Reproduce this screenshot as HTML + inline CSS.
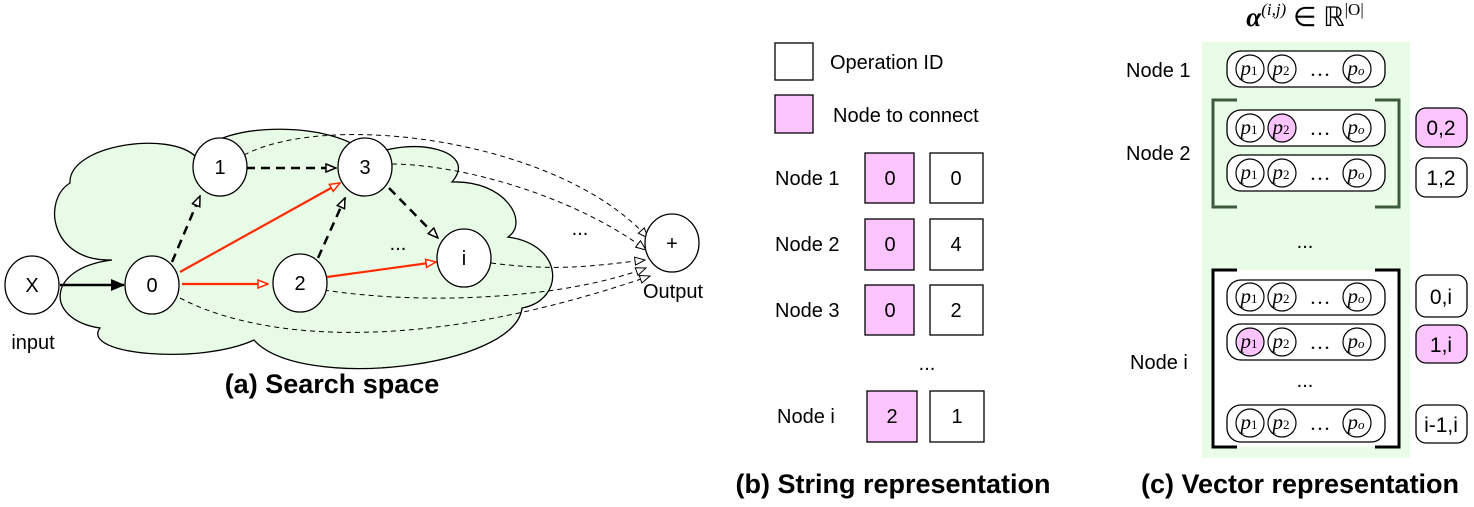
<!DOCTYPE html>
<html><head><meta charset="utf-8"><style>
html,body{margin:0;padding:0;background:#fff;}
svg{display:block;font-family:"Liberation Sans",sans-serif;}
</style></head><body>
<svg width="1474" height="507" viewBox="0 0 1474 507" xmlns="http://www.w3.org/2000/svg">
<defs>
<marker id="ob" markerWidth="12" markerHeight="10" refX="11" refY="5" orient="auto" markerUnits="userSpaceOnUse"><path d="M1,1 L11,5 L1,9 Z" fill="#fff" stroke="#000" stroke-width="1.5"/></marker>
<marker id="obt" markerWidth="12" markerHeight="10" refX="11" refY="5" orient="auto" markerUnits="userSpaceOnUse"><path d="M1,1 L11,5 L1,9 Z" fill="#fff" stroke="#000" stroke-width="1"/></marker>
<marker id="or" markerWidth="12" markerHeight="10" refX="11" refY="5" orient="auto" markerUnits="userSpaceOnUse"><path d="M1,1 L11,5 L1,9 Z" fill="#fff" stroke="#ff2a00" stroke-width="1.5"/></marker>
<marker id="fb" markerWidth="14" markerHeight="12" refX="13" refY="6" orient="auto" markerUnits="userSpaceOnUse"><path d="M0,0 L14,6 L0,12 Z" fill="#000"/></marker>
</defs>
<path d="M112,260 C50,262 42,200 70,183 C68,145 170,130 196,157 C220,118 345,122 368,157 C410,135 480,150 452,182 C505,180 530,222 508,237 C565,245 565,300 522,308 C515,368 300,392 254,340 C200,365 80,355 100,328 C45,320 45,268 112,260 Z" fill="#e8fbe6" stroke="#000" stroke-width="1.3"/>
<g fill="none" stroke="#000" stroke-width="1" stroke-dasharray="5,4" marker-end="url(#obt)">
<path d="M244,155 C330,110 560,140 648,238"/>
<path d="M392,164 C470,165 580,200 646,250"/>
<path d="M491,263 C560,272 600,265 645,260"/>
<path d="M324,290 C420,305 560,300 646,268"/>
<path d="M180,298 C260,340 420,355 650,276"/>
</g>
<g fill="none" stroke="#000" stroke-width="2.5" stroke-dasharray="9,6" marker-end="url(#ob)">
<path d="M172,262 L200,196"/>
<path d="M246,168 L336,168"/>
<path d="M318,258 L345,198"/>
<path d="M389,188 L438,238"/>
</g>
<g fill="none" stroke="#ff2a00" stroke-width="2.2" marker-end="url(#or)">
<path d="M180,272 L340,183"/>
<path d="M182,284 L268,284"/>
<path d="M327,277 L436,262"/>
</g>
<path d="M60,285 L124,285" stroke="#000" stroke-width="2.5" marker-end="url(#fb)"/>
<g fill="#fff" stroke="#000" stroke-width="1.3">
<ellipse cx="32" cy="285" rx="27" ry="29"/>
<ellipse cx="152" cy="285" rx="27" ry="29"/>
<ellipse cx="220" cy="167" rx="27" ry="29"/>
<ellipse cx="365" cy="167" rx="27" ry="29"/>
<ellipse cx="300" cy="283" rx="27" ry="29"/>
<ellipse cx="464" cy="258" rx="27" ry="29"/>
<ellipse cx="672" cy="243" rx="27" ry="29"/>
</g>
<g font-size="20" text-anchor="middle" fill="#000">
<text x="32" y="292">X</text><text x="152" y="292">0</text><text x="220" y="174">1</text>
<text x="365" y="174">3</text><text x="300" y="290">2</text><text x="464" y="265">i</text>
<text x="672" y="250">+</text>
<text x="398" y="250">...</text><text x="580" y="235">...</text>
<text x="673" y="298">Output</text>
<text x="33" y="349">input</text>
</g>
<text x="332" y="393" font-size="27" font-weight="bold" text-anchor="middle">(a) Search space</text>

<g stroke="#000" stroke-width="1.3">
<rect x="775" y="43" width="38" height="37" fill="#fff"/>
<rect x="775" y="95" width="38" height="38" fill="#fcc4fc"/>
<rect x="865" y="153" width="49" height="50" fill="#fcc4fc"/><rect x="930" y="153" width="53" height="50" fill="#fff"/>
<rect x="865" y="219" width="49" height="51" fill="#fcc4fc"/><rect x="930" y="219" width="53" height="51" fill="#fff"/>
<rect x="865" y="285" width="49" height="50" fill="#fcc4fc"/><rect x="930" y="285" width="53" height="50" fill="#fff"/>
<rect x="867" y="391" width="50" height="51" fill="#fcc4fc"/><rect x="930" y="391" width="54" height="51" fill="#fff"/>
</g>
<g font-size="20" fill="#000">
<text x="830" y="69">Operation ID</text>
<text x="833" y="122">Node to connect</text>
<text x="775" y="185">Node 1</text><text x="775" y="251">Node 2</text><text x="775" y="317">Node 3</text><text x="777" y="423">Node i</text>
</g>
<g font-size="20" text-anchor="middle" fill="#000">
<text x="890" y="185">0</text><text x="956" y="185">0</text>
<text x="890" y="251">0</text><text x="956" y="251">4</text>
<text x="890" y="317">0</text><text x="956" y="317">2</text>
<text x="892" y="423">2</text><text x="957" y="423">1</text>
<text x="927" y="370">...</text>
</g>
<text x="893" y="493" font-size="27" font-weight="bold" text-anchor="middle">(b) String representation</text>

<text x="1305" y="26" font-size="27" text-anchor="middle" font-family="Liberation Serif,serif"><tspan font-weight="bold" font-style="italic">α</tspan><tspan font-size="17" dy="-11" font-style="italic">(i,j)</tspan><tspan dy="11"> ∈ ℝ</tspan><tspan font-size="17" dy="-11">|O|</tspan></text>
<rect x="1202" y="42" width="208" height="416" fill="#e8fce8"/>
<rect x="1212" y="270" width="188" height="177" fill="#fff"/>
<g fill="none" stroke-width="3">
<path d="M1237,100 H1213 V207 H1237 M1375,100 H1399 V207 H1375" stroke="#3d5a3d"/>
<path d="M1237,270 H1213 V447 H1237 M1375,270 H1399 V447 H1375" stroke="#000"/>
</g>
<g font-size="20" fill="#000">
<text x="1126" y="77">Node 1</text><text x="1126" y="160">Node 2</text><text x="1130" y="369">Node i</text>
</g>
<g font-size="20" text-anchor="middle" fill="#000">
<text x="1305" y="248">...</text><text x="1305" y="387">...</text>
</g>
<g stroke="#000" stroke-width="1.3" fill="#fff">
<rect x="1227" y="51" width="158" height="36" rx="14"/>
<rect x="1227" y="110" width="158" height="36" rx="14"/>
<rect x="1227" y="155" width="158" height="36" rx="14"/>
<rect x="1227" y="280" width="158" height="35" rx="14"/>
<rect x="1227" y="324" width="158" height="36" rx="14"/>
<rect x="1227" y="405" width="158" height="37" rx="14"/>
</g>
<g stroke="#000" stroke-width="1.2" fill="#fff">
<circle cx="1250" cy="69" r="14"/><circle cx="1282" cy="69" r="14"/><circle cx="1357" cy="69" r="14"/>
<circle cx="1250" cy="128" r="14"/><circle cx="1282" cy="128" r="14" fill="#fcc4fc"/><circle cx="1357" cy="128" r="14"/>
<circle cx="1250" cy="173" r="14"/><circle cx="1282" cy="173" r="14"/><circle cx="1357" cy="173" r="14"/>
<circle cx="1250" cy="297" r="14"/><circle cx="1282" cy="297" r="14"/><circle cx="1357" cy="297" r="14"/>
<circle cx="1250" cy="342" r="14" fill="#fcc4fc"/><circle cx="1282" cy="342" r="14"/><circle cx="1357" cy="342" r="14"/>
<circle cx="1250" cy="423" r="14"/><circle cx="1282" cy="423" r="14"/><circle cx="1357" cy="423" r="14"/>
</g>
<g font-size="21" text-anchor="middle" font-family="Liberation Serif,serif" font-style="italic" fill="#000">
<text x="1249" y="75">p<tspan font-size="13" font-style="normal">1</tspan></text><text x="1281" y="75">p<tspan font-size="13" font-style="normal">2</tspan></text><text x="1356" y="75">p<tspan font-size="13">o</tspan></text><text x="1320" y="76" font-style="normal">…</text>
<text x="1249" y="134">p<tspan font-size="13" font-style="normal">1</tspan></text><text x="1281" y="134">p<tspan font-size="13" font-style="normal">2</tspan></text><text x="1356" y="134">p<tspan font-size="13">o</tspan></text><text x="1320" y="135" font-style="normal">…</text>
<text x="1249" y="179">p<tspan font-size="13" font-style="normal">1</tspan></text><text x="1281" y="179">p<tspan font-size="13" font-style="normal">2</tspan></text><text x="1356" y="179">p<tspan font-size="13">o</tspan></text><text x="1320" y="180" font-style="normal">…</text>
<text x="1249" y="303">p<tspan font-size="13" font-style="normal">1</tspan></text><text x="1281" y="303">p<tspan font-size="13" font-style="normal">2</tspan></text><text x="1356" y="303">p<tspan font-size="13">o</tspan></text><text x="1320" y="304" font-style="normal">…</text>
<text x="1249" y="348">p<tspan font-size="13" font-style="normal">1</tspan></text><text x="1281" y="348">p<tspan font-size="13" font-style="normal">2</tspan></text><text x="1356" y="348">p<tspan font-size="13">o</tspan></text><text x="1320" y="349" font-style="normal">…</text>
<text x="1249" y="429">p<tspan font-size="13" font-style="normal">1</tspan></text><text x="1281" y="429">p<tspan font-size="13" font-style="normal">2</tspan></text><text x="1356" y="429">p<tspan font-size="13">o</tspan></text><text x="1320" y="430" font-style="normal">…</text>
</g>
<g stroke="#000" stroke-width="1.3">
<rect x="1416" y="108" width="51" height="39" rx="10" fill="#fcc4fc"/>
<rect x="1416" y="158" width="51" height="39" rx="10" fill="#fff"/>
<rect x="1416" y="275" width="51" height="42" rx="10" fill="#fff"/>
<rect x="1416" y="325" width="51" height="38" rx="10" fill="#fcc4fc"/>
<rect x="1416" y="405" width="51" height="38" rx="10" fill="#fff"/>
</g>
<g font-size="21" text-anchor="middle" fill="#000">
<text x="1441" y="135">0,2</text><text x="1441" y="185">1,2</text><text x="1441" y="304">0,i</text><text x="1441" y="352">1,i</text><text x="1441" y="432">i-1,i</text>
</g>
<text x="1300" y="493" font-size="27" font-weight="bold" text-anchor="middle">(c) Vector representation</text>
</svg>
</body></html>
